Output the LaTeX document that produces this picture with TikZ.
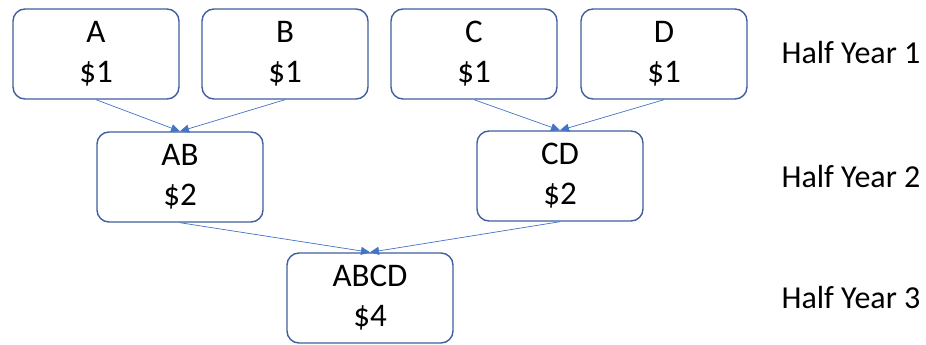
\documentclass[tikz,border=0pt]{standalone}
\usepackage{fontspec}
\setmainfont{Carlito}
\usetikzlibrary{arrows.meta}
\definecolor{boxline}{HTML}{3F5F9E}
\definecolor{arrowline}{HTML}{4472C4}
\begin{document}
\begin{tikzpicture}
  [
    x = 1pt, y = -1pt,
    merge/.style = {shape=rectangle, rounded corners=12pt, draw=boxline,
                    line width=1.4pt, align=center,
                    minimum width=166pt, minimum height=90pt,
                    font=\fontsize{33}{40}\selectfont},
    period/.style = {font=\fontsize{32}{36}\selectfont},
    % thin blue connector with a filled tip
    link/.style = {draw=arrowline, line width=0.7pt,
                   -{Triangle[length=9pt,width=8pt]}}
    ]
    \useasboundingbox (0,0) rectangle (926,345);
    \node [merge] (a) at (96,54)  {A\\\$1};
    \node [merge] (b) at (285,54) {B\\\$1};
    \node [merge] (c) at (474,54) {C\\\$1};
    \node [merge] (d) at (664,54) {D\\\$1};
    \node [merge] (ab) at (180,177) {AB\\\$2};
    \node [merge] (cd) at (560,176) {CD\\\$2};
    \node [merge] (abcd) at (370,298) {ABCD\\\$4};
    \node [period] (h1) at (851,53)  {Half Year 1};
    \node [period] (h2) at (851,177) {Half Year 2};
    \node [period] (h3) at (851,298) {Half Year 3};
    \draw [link] (a.south) -- (ab.north);
    \draw [link] (b.south) -- (ab.north);
    \draw [link] (c.south) -- (cd.north);
    \draw [link] (d.south) -- (cd.north);
    \draw [link] (ab.south) -- (abcd.north);
    \draw [link] (cd.south) -- (abcd.north);
\end{tikzpicture}
\end{document}
